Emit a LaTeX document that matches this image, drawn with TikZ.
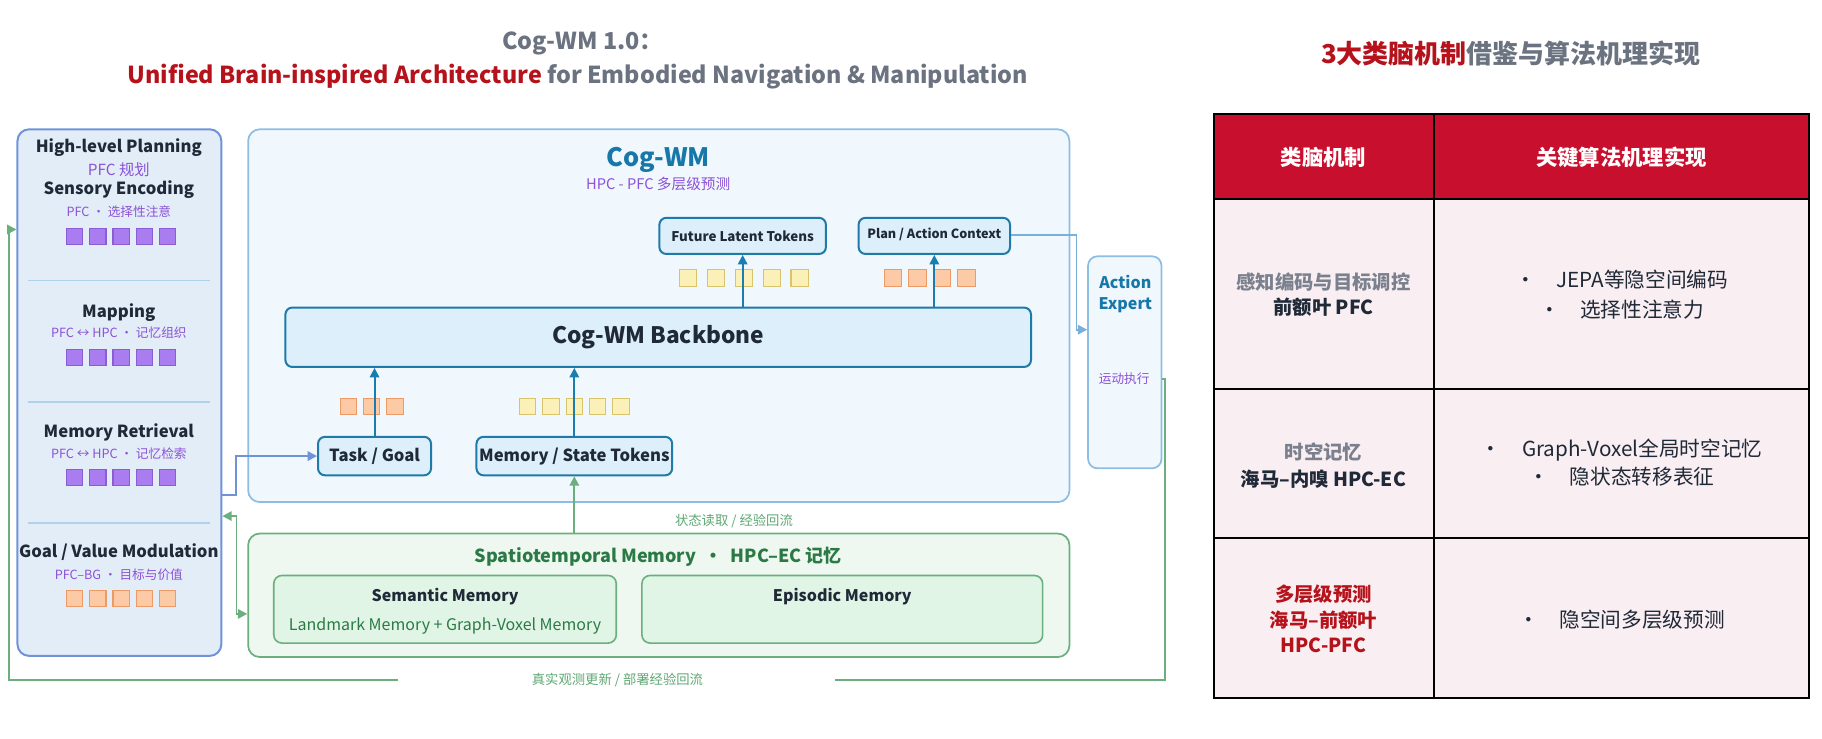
\documentclass[tikz,border=0pt]{standalone}
\usepackage{fontspec}
\setmainfont{Noto Sans CJK SC}
\usetikzlibrary{arrows.meta}
\newdimen\U \U=0.874pt
\definecolor{lpfill}{HTML}{E3EDF8}\definecolor{lpdraw}{HTML}{7093D8}
\definecolor{mbfill}{HTML}{F0F7FD}\definecolor{mbdraw}{HTML}{8EBDE3}
\definecolor{ndfill}{HTML}{DDEFFA}\definecolor{nddraw}{HTML}{1F7AA8}
\definecolor{arw}{HTML}{1A7DB0}\definecolor{purp}{HTML}{8B52D6}
\definecolor{psqf}{HTML}{A97CF0}\definecolor{psqd}{HTML}{8A5CD6}
\definecolor{osqf}{HTML}{FCCBA5}\definecolor{osqd}{HTML}{EE9A66}
\definecolor{ysqf}{HTML}{FBF1B8}\definecolor{ysqd}{HTML}{D8C46A}
\definecolor{gdraw}{HTML}{6BAF7E}\definecolor{gfill}{HTML}{EEF8F0}\definecolor{gin}{HTML}{E0F5E6}
\definecolor{gtxt}{HTML}{2B7A45}\definecolor{hred}{HTML}{C8102E}\definecolor{tred}{HTML}{B5121B}
\definecolor{gray}{HTML}{6B7280}\definecolor{dark}{HTML}{1F2937}\definecolor{tbody}{HTML}{F9EEF1}
\definecolor{ctitle}{HTML}{1677A8}\definecolor{gtext}{HTML}{5FA774}
\begin{document}
\begin{tikzpicture}[x=\U,y=-\U,
 tip/.tip={Triangle[length=7pt,width=7pt]},
 box/.style={draw=nddraw,fill=ndfill,line width=1.5pt,rounded corners=5.2pt,font=\bfseries,text=dark,inner sep=0pt},
 ar/.style={draw=arw,line width=1.5pt,-tip},
 gar/.style={draw=gdraw,line width=1.4pt,-tip},
 psq/.style={fill=psqf,draw=psqd,line width=0.8pt},
 osq/.style={fill=osqf,draw=osqd,line width=0.8pt},
 ysq/.style={fill=ysqf,draw=ysqd,line width=0.8pt},
 hd/.style={font=\fontsize{12.5}{14}\selectfont\bfseries,text=dark},
 sub/.style={font=\fontsize{9.5}{11}\selectfont,text=purp},
 cell/.style={font=\fontsize{15.5}{18}\selectfont,text=dark},
 lcell/.style={font=\fontsize{14.5}{17}\selectfont\bfseries,text=dark}]
\useasboundingbox (0,0) rectangle (1564,634.3);
% title
\node (t1) at (500,37) {\fontsize{17.5}{21}\selectfont\bfseries\color{gray}Cog-WM 1.0：};
\node (t2) at (496,66) {\fontsize{17.5}{21}\selectfont\bfseries\color{tred}Unified Brain-inspired Architecture \color{gray}for Embodied Navigation \& Manipulation};
% left panel
\node[draw=lpdraw,fill=lpfill,line width=1.5pt,rounded corners=8.7pt,minimum width=175\U,minimum height=452\U] (lp) at (102.5,337) {};
\foreach \y in {241,345,449} \draw[draw=mbdraw!70,line width=1pt] (24,\y) -- (180,\y);
\node[hd] (h1) at (102,127) {High-level Planning};
\node[font=\fontsize{11.5}{13}\selectfont,text=purp] (h1s) at (102,146) {PFC 规划};
\node[hd] (h2) at (102,163) {Sensory Encoding};
\node[sub] (h2s) at (102,182) {PFC · 选择性注意};
\node[hd] (h3) at (102,268) {Mapping};
\node[sub] (h3s) at (102,286) {PFC ↔ HPC · 记忆组织};
\node[hd] (h4) at (102,371) {Memory Retrieval};
\node[sub] (h4s) at (102,389) {PFC ↔ HPC · 记忆检索};
\node[hd] (h5) at (102,474) {Goal / Value Modulation};
\node[sub] (h5s) at (102,493) {PFC–BG · 目标与价值};
\foreach \y/\s in {196/psq,300/psq,403/psq,507/osq}
  \foreach \i in {0,...,4} \draw[\s] (57+\i*20,\y) rectangle ++(14,14);
% main box
\node[draw=mbdraw,fill=mbfill,line width=1.3pt,rounded corners=8.7pt,minimum width=705\U,minimum height=320\U] (mb) at (565.5,271) {};
\node[font=\fontsize{19}{22}\selectfont\bfseries,text=ctitle] (cw) at (565,137) {Cog-WM};
\node[sub,font=\fontsize{11}{13}\selectfont] (cws) at (565,158) {HPC - PFC 多层级预测};
\node[box,minimum width=143\U,minimum height=31\U,font=\fontsize{10}{12}\selectfont\bfseries] (flt) at (637.5,202.5) {Future Latent Tokens};
\node[box,minimum width=130\U,minimum height=31\U,font=\fontsize{9.5}{11}\selectfont\bfseries,text depth=4\U] (pac) at (802,202.5) {Plan / Action Context};
\node[box,minimum width=640\U,minimum height=51\U,font=\fontsize{17}{20}\selectfont\bfseries] (bb) at (565,289.5) {Cog-WM Backbone};
\node[box,minimum width=97\U,minimum height=33\U,font=\fontsize{12.5}{14}\selectfont\bfseries] (tg) at (321.5,391.5) {Task / Goal};
\node[box,minimum width=168\U,minimum height=33\U,font=\fontsize{12.5}{14}\selectfont\bfseries] (ms) at (493,391.5) {Memory / State Tokens};
\foreach \i in {0,...,4} \draw[ysq] (583+\i*24,231) rectangle ++(15,15);
\foreach \i in {0,...,3} \draw[osq] (759+\i*21,231) rectangle ++(15,15);
\foreach \i in {0,...,2} \draw[osq] (292+\i*20,342) rectangle ++(14,14);
\foreach \i in {0,...,4} \draw[ysq] (446+\i*20,342) rectangle ++(14,14);
\draw[ar] (tg.north) -- (tg.north|-bb.south);
\draw[ar] (ms.north) -- (ms.north|-bb.south);
\draw[ar] (flt.south|-bb.north) -- (flt.south);
\draw[ar] (pac.south|-bb.north) -- (pac.south);
% action expert
\node[draw=mbdraw,fill=mbfill,line width=1.3pt,rounded corners=7pt,minimum width=63\U,minimum height=182\U] (ae) at (965.5,311) {};
\node[font=\fontsize{12}{14}\selectfont\bfseries,text=ctitle,align=center] (aet) at (966,252.5) {Action\\[2pt]Expert};
\node[sub] (aes) at (965,325) {运动执行};
\coordinate (ae1) at (924,202);
\draw[draw=mbdraw!80!arw,line width=1.4pt,-tip] (pac.east|-ae1) -| (ae1) |- (ae.west|-0,283);
% spatiotemporal
\node[draw=gdraw,fill=gfill,line width=1.3pt,rounded corners=8.7pt,minimum width=705\U,minimum height=106\U] (sp) at (565.5,511) {};
\node[font=\fontsize{13.5}{15}\selectfont\bfseries,text=gtxt] (spt) at (565,478) {Spatiotemporal Memory \ · \ HPC–EC 记忆};
\node[draw=gdraw,fill=gin,line width=1.2pt,rounded corners=6.1pt,minimum width=294\U,minimum height=58\U] (sem) at (382,523) {};
\node[hd,font=\fontsize{12}{14}\selectfont\bfseries] (semt) at (382,512) {Semantic Memory};
\node[font=\fontsize{12}{14}\selectfont,text=gtxt] (sems) at (382,537) {Landmark Memory + Graph-Voxel Memory};
\node[draw=gdraw,fill=gin,line width=1.2pt,rounded corners=6.1pt,minimum width=344\U,minimum height=58\U] (epi) at (723,523) {};
\node[hd,font=\fontsize{12}{14}\selectfont\bfseries] (epit) at (723,512) {Episodic Memory};
\draw[gar] (ms.south|-sp.north) -- (ms.south);
\node[font=\fontsize{10}{12}\selectfont,text=gtext] (rd) at (630,447) {状态读取 / 经验回流};
% left connectors
\coordinate (j1) at (203,425);
\draw[draw=lpdraw,line width=1.5pt,-tip] (lp.east|-j1) -- (j1) |- (tg.west);
\coordinate (g1) at (203,443);\coordinate (g2) at (203,527);
\draw[gar,tip-tip] (lp.east|-g1) -- (g1) -- (g2) -- (sp.west|-g2);
% bottom loop
\node[font=\fontsize{10}{12}\selectfont,text=gtext] (lb) at (530,584) {真实观测更新 / 部署经验回流};
\coordinate (b1) at (1000,325);\coordinate (b2) at (1000,584);\coordinate (b3) at (8,584);\coordinate (b4) at (8,197);
\coordinate (bm1) at (717,584);\coordinate (bm2) at (342,584);
\draw[draw=gdraw,line width=1.4pt] (ae.east|-b1) -- (b1) -- (b2) -- (bm1);
\draw[gar] (bm2) -- (b3) -- (b4) -- (lp.west|-b4);
% right title
\node (rt) at (1297,46) {\fontsize{19.5}{23}\selectfont\bfseries\color{tred}3大类脑机制\color{gray}借鉴与算法机理实现};
% table
\fill[hred] (1042,98) rectangle (1553,171);
\fill[tbody] (1042,171) rectangle (1553,599);
\draw[line width=1.8pt] (1042,98) rectangle (1553,599);
\draw[line width=1.8pt] (1231,98) -- (1231,599);
\foreach \y in {171,334,462} \draw[line width=1.8pt] (1042,\y) -- (1553,\y);
\node[font=\fontsize{16}{19}\selectfont\bfseries,text=white] (th1) at (1136,135) {类脑机制};
\node[font=\fontsize{16}{19}\selectfont\bfseries,text=white] (th2) at (1392,135) {关键算法机理实现};
\node[lcell,text=gray!90] (c11) at (1136,242) {感知编码与目标调控};
\node[lcell] (c12) at (1136,264) {前额叶 PFC};
\node[cell] (d11) at (1392,240) {•\quad JEPA等隐空间编码};
\node[cell] (d12) at (1392,266) {•\quad 选择性注意力};
\node[lcell,text=gray!90] (c21) at (1136,388) {时空记忆};
\node[lcell] (c22) at (1136,411) {海马–内嗅 HPC-EC};
\node[cell] (d21) at (1392,386) {•\quad Graph-Voxel全局时空记忆};
\node[cell] (d22) at (1392,409) {•\quad 隐状态转移表征};
\node[lcell,text=tred] (c31) at (1136,510) {多层级预测};
\node[lcell,text=tred] (c32) at (1136,532) {海马–前额叶};
\node[lcell,text=tred] (c33) at (1136,554) {HPC-PFC};
\node[cell] (d31) at (1392,532) {•\quad 隐空间多层级预测};
\end{tikzpicture}
\end{document}
